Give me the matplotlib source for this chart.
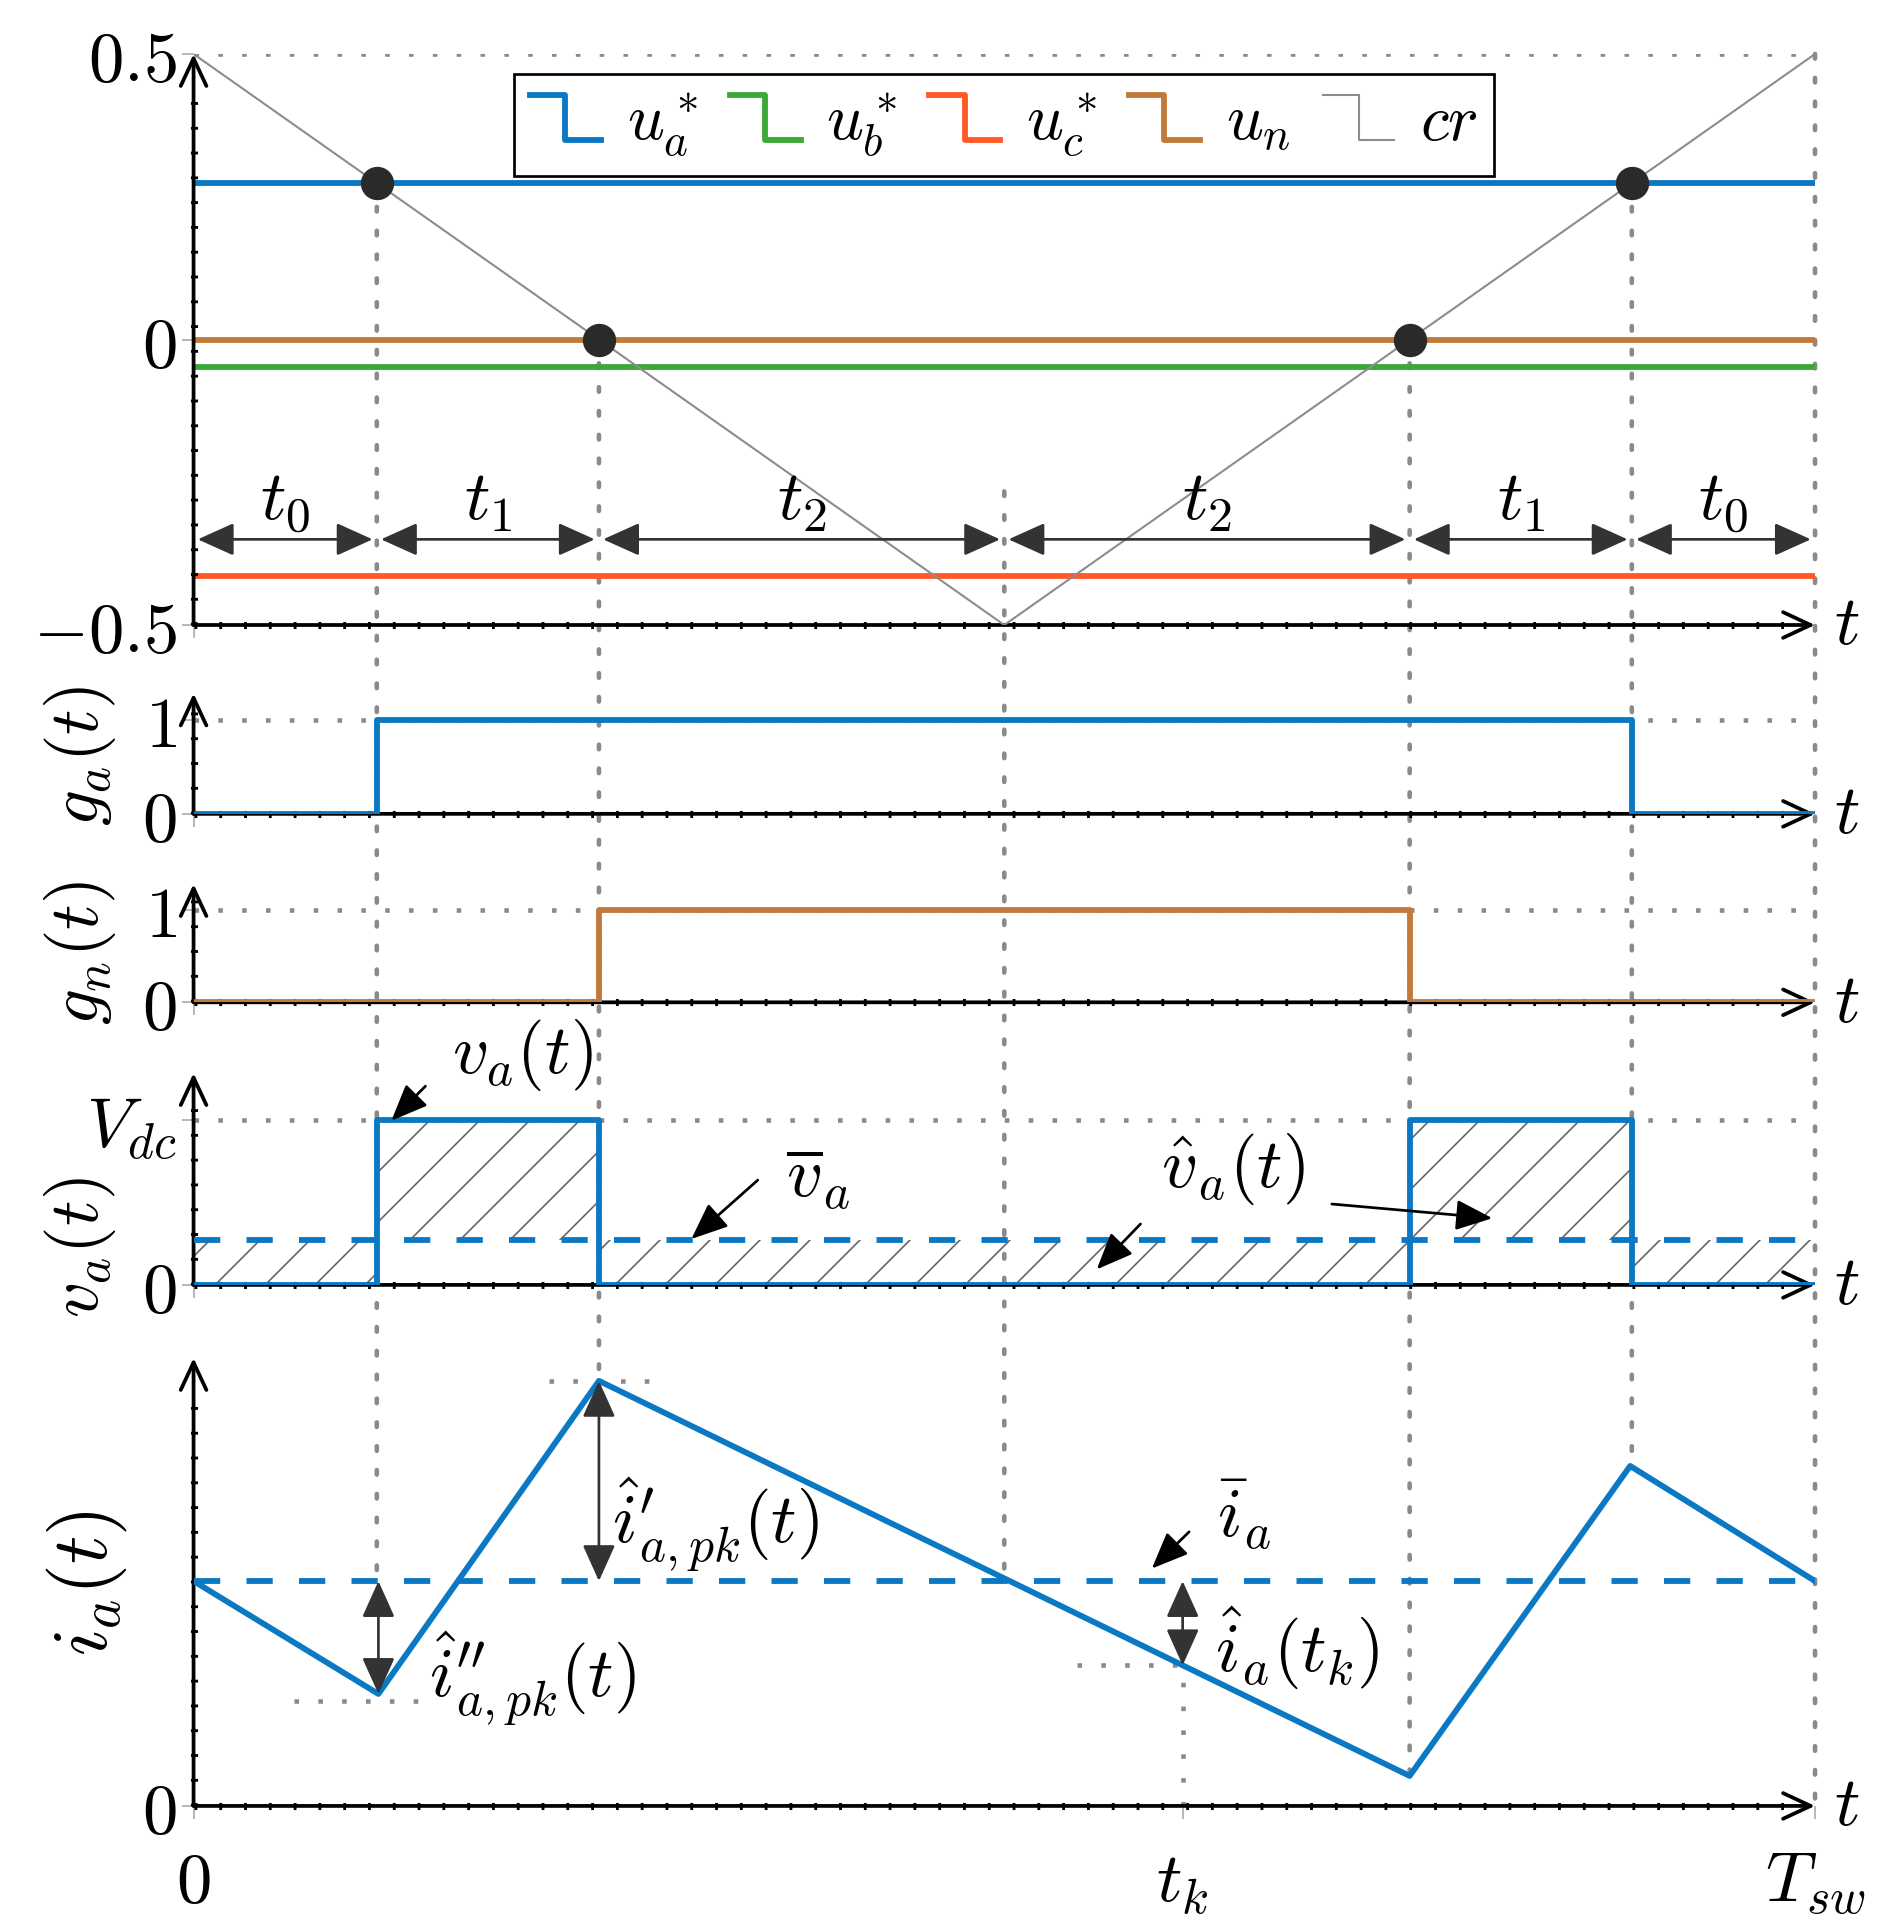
#!/usr/bin/env python3
# -*- coding: utf-8 -*-
""" Carrier based PWM of one leg: references, gate signals, leg voltage and leg current over one T_sw. """

import numpy as np
import matplotlib
matplotlib.use("Agg")
import matplotlib.pyplot as plt
from matplotlib.lines import Line2D
from matplotlib.patches import ConnectionPatch
from matplotlib.legend_handler import HandlerBase

# --- values (time normalised to T_sw) ---
ref_labels = [r"$u_a^*$", r"$u_b^*$", r"$u_c^*$", r"$u_n$"]
ref_values = [0.274, -0.049, -0.415, 0.0]
ref_colors = ["#0a78c2", "#3aaa35", "#ff5a28", "#c27a3a"]
carrier_t = [0.0, 0.5, 1.0]
carrier_u = [0.5, -0.5, 0.5]
interval_labels = [r"$t_0$", r"$t_1$", r"$t_2$", r"$t_2$", r"$t_1$", r"$t_0$"]
v_dc = 1.0
va_mean = 0.27
ia_t = [0.0, 0.114, 0.25, 0.75, 0.886, 1.0]
ia_values = [0.502, 0.25, 0.949, 0.067, 0.759, 0.502]
ia_mean = 0.502
t_k = 0.61

plt.rcParams["mathtext.fontset"] = "cm"
plt.rcParams["font.family"] = ["DejaVu Serif"]
plt.rcParams["hatch.color"] = "#666666"
plt.rcParams["hatch.linewidth"] = 0.8

FS = 34
LW = 2.8
BLUE = ref_colors[0]
BROWN = ref_colors[3]
GRID = "#8a8a8a"
DOT = (0, (1, 4.2))
DARK = "#333333"


class StepHandler(HandlerBase):
    """ legend handle drawn as a little step, like pgfplots const plot """
    def create_artists(self, legend, orig_handle, xdescent, ydescent, width, height, fontsize, trans):
        x0, y0 = -xdescent, -ydescent
        xs = [x0, x0 + width / 2, x0 + width / 2, x0 + width]
        ys = [y0 + height, y0 + height, y0, y0]
        line = Line2D(xs, ys, color=orig_handle.get_color(), lw=orig_handle.get_linewidth(), transform=trans)
        return [line]


def crossing_down(u):
    return float(np.interp(u, carrier_u[1::-1], carrier_t[1::-1]))


def crossing_up(u):
    return float(np.interp(u, carrier_u[1:], carrier_t[1:]))


ta_on, ta_off = crossing_down(ref_values[0]), crossing_up(ref_values[0])
tn_on, tn_off = crossing_down(ref_values[3]), crossing_up(ref_values[3])

fig = plt.figure(figsize=(1894 / 150, 1929 / 150), dpi=150)
L, W = 0.1022, 0.8561
ax1 = fig.add_axes([L, 0.676, W, 0.296])
ax2 = fig.add_axes([L, 0.5781, W, 0.0624])
ax3 = fig.add_axes([L, 0.4804, W, 0.0613])
ax4 = fig.add_axes([L, 0.3339, W, 0.1098])
ax5 = fig.add_axes([L, 0.0638, W, 0.2322])
ylims = [(-0.5, 0.5), (0, 1.289), (0, 1.281), (0, 1.283), (0, 1.0)]

arrow_axis = dict(arrowstyle="->,head_length=0.6,head_width=0.28", lw=1.8, color="black",
                  mutation_scale=22, shrinkA=0, shrinkB=0)
beads = dict(color="black", lw=3.4, ls=(0, (0.4, 3.1)), zorder=2.5, clip_on=False)
for ax, (y0, y1) in zip([ax1, ax2, ax3, ax4, ax5], ylims):
    ax.set_xlim(0, 1)
    ax.set_ylim(y0, y1)
    ax.patch.set_visible(False)
    for s in ax.spines.values():
        s.set_visible(False)
    ax.annotate("", xy=(0, y1), xytext=(0, y0), arrowprops=arrow_axis, annotation_clip=False)
    ax.annotate("", xy=(1.0, y0), xytext=(0, y0), arrowprops=arrow_axis, annotation_clip=False)
    # the little dots sitting on the axis lines
    ax.plot([0, 0], [y0, y1 - 0.06 * (y1 - y0)], **beads)
    ax.plot([0, 0.985], [y0, y0], **beads)
    ax.text(1.012, y0, r"$t$", fontsize=FS, ha="left", va="center")
    ax.tick_params(length=6, width=0.8, color="#aaaaaa", labelsize=FS, pad=2)
    ax.set_xticks([0], [""])

# --- panel 1: references and carrier ---
ax1.plot([0, 1], [0.5, 0.5], color=GRID, lw=2.2, ls=DOT, zorder=1)
handles = []
for u, c, lab in zip(ref_values, ref_colors, ref_labels):
    h, = ax1.plot([0, 1], [u, u], color=c, lw=LW, zorder=2, label=lab)
    handles.append(h)
h, = ax1.plot(carrier_t, carrier_u, color="#8c8c8c", lw=1.0, zorder=3, label=r"$cr$")
handles.append(h)
ax1.plot([ta_on, tn_on, tn_off, ta_off], [ref_values[0], ref_values[3], ref_values[3], ref_values[0]],
         ls="none", marker="o", ms=15, color="#2a2a2a", zorder=4)
ax1.set_yticks([-0.5, 0, 0.5], [r"$-0.5$", r"$0$", r"$0.5$"])

bounds = [0.0, ta_on, tn_on, 0.5, tn_off, ta_off, 1.0]
arrow_double = dict(arrowstyle="<|-|>,head_length=0.6,head_width=0.27", lw=1.3, color=DARK,
                    mutation_scale=25, shrinkA=2, shrinkB=2)
for a, b, lab in zip(bounds[:-1], bounds[1:], interval_labels):
    ax1.annotate("", xy=(b, -0.35), xytext=(a, -0.35), arrowprops=arrow_double, zorder=5)
    ax1.text((a + b) / 2, -0.282, lab, fontsize=FS, ha="center", va="center")

leg = ax1.legend(handles=handles, handler_map={Line2D: StepHandler()}, ncol=5, loc="upper center",
                 bbox_to_anchor=(0.530, 0.9616), bbox_transform=fig.transFigure, fontsize=31,
                 frameon=True, fancybox=False, edgecolor="black", framealpha=1, handlelength=1.1,
                 handletextpad=0.4, columnspacing=0.5, borderpad=0.25, borderaxespad=0)
leg.get_frame().set_linewidth(1.3)

# --- panels 2 and 3: gate signals ---
ax2.plot([0, 1], [1, 1], color=GRID, lw=2.2, ls=DOT, zorder=1)
ax2.step([0, ta_on, ta_off, 1], [0, 1, 0, 0], where="post", color=BLUE, lw=LW, zorder=3)
ax2.set_yticks([0, 1], [r"$0$", r"$1$"])
ax3.plot([0, 1], [1, 1], color=GRID, lw=2.2, ls=DOT, zorder=1)
ax3.step([0, tn_on, tn_off, 1], [0, 1, 0, 0], where="post", color=BROWN, lw=LW, zorder=3)
ax3.set_yticks([0, 1], [r"$0$", r"$1$"])

# --- panel 4: leg voltage ---
va_edges = [0, ta_on, tn_on, tn_off, ta_off, 1]
va_levels = [0, v_dc, 0, v_dc, 0, 0]
ax4.plot([0, 1], [v_dc, v_dc], color=GRID, lw=2.2, ls=DOT, zorder=1)
ax4.fill_between(va_edges, va_levels, va_mean, step="post", hatch="/", facecolor="none",
                 edgecolor="#666666", lw=0, zorder=2)
ax4.step(va_edges, va_levels, where="post", color=BLUE, lw=LW, zorder=3)
ax4.plot([0, 1], [va_mean, va_mean], color=BLUE, lw=LW, ls=(0, (4.5, 4.5)), zorder=3)
ax4.set_yticks([0, v_dc], [r"$0$", r"$V_{dc}$"])

single = dict(arrowstyle="-|>,head_length=0.6,head_width=0.25", lw=1.3, color="black",
              mutation_scale=25, shrinkA=0, shrinkB=0)
ax4.text(0.203, 1.39, r"$v_a(t)$", fontsize=FS, ha="center", va="center")
ax4.annotate("", xy=(0.122, 0.995), xytext=(0.143, 1.204), arrowprops=single, annotation_clip=False)
ax4.text(0.385, 0.65, r"$\overline{v}_a$", fontsize=FS, ha="center", va="center")
ax4.annotate("", xy=(0.307, 0.278), xytext=(0.348, 0.635), arrowprops=single)
ax4.text(0.641, 0.70, r"$\hat{v}_a(t)$", fontsize=FS, ha="center", va="center")
ax4.annotate("", xy=(0.801, 0.404), xytext=(0.702, 0.49), arrowprops=single, zorder=6)
ax4.annotate("", xy=(0.557, 0.094), xytext=(0.584, 0.369), arrowprops=single, zorder=6)

# --- panel 5: leg current ---
ia_tk = float(np.interp(t_k, ia_t, ia_values))
ax5.plot([0, 1], [ia_mean, ia_mean], color=BLUE, lw=LW, ls=(0, (4.5, 4.5)), zorder=3)
ax5.plot(ia_t, ia_values, color=BLUE, lw=LW, zorder=4)
ax5.plot([ia_t[2] - 0.031, ia_t[2] + 0.031], [ia_values[2]] * 2, color=GRID, lw=2.2, ls=DOT, zorder=1)
ax5.plot([ia_t[1] - 0.052, ia_t[1] + 0.025], [ia_values[1] - 0.015] * 2, color=GRID, lw=2.2, ls=DOT, zorder=1)
ax5.plot([t_k - 0.065, t_k], [ia_tk] * 2, color=GRID, lw=2.2, ls=DOT, zorder=1)
ax5.plot([t_k, t_k], [0, ia_tk], color=GRID, lw=2.2, ls=DOT, zorder=1)
ax5.set_yticks([0], [r"$0$"])
ax5.set_xticks([0, t_k, 1], [r"$0$", r"$t_k$", r"$T_{sw}$"])
ax5.tick_params(axis="x", pad=14)

double = dict(arrowstyle="<|-|>,head_length=0.6,head_width=0.27", lw=1.3, color=DARK,
              mutation_scale=25, shrinkA=0, shrinkB=0)
ax5.annotate("", xy=(ia_t[1], ia_values[1]), xytext=(ia_t[1], ia_mean), arrowprops=double, zorder=6)
ax5.annotate("", xy=(ia_t[2], ia_values[2]), xytext=(ia_t[2], ia_mean), arrowprops=double, zorder=6)
ax5.annotate("", xy=(t_k, ia_tk), xytext=(t_k, ia_mean), arrowprops=double, zorder=6)
ax5.text(0.145, 0.283, r"$\hat{i}^{\prime\prime}_{a,pk}(t)$", fontsize=FS, ha="left", va="center")
ax5.text(0.258, 0.627, r"$\hat{i}^{\prime}_{a,pk}(t)$", fontsize=FS, ha="left", va="center")
ax5.text(0.648, 0.65, r"$\bar{i}_a$", fontsize=FS, ha="center", va="center")
ax5.annotate("", xy=(0.591, 0.53), xytext=(0.614, 0.612), arrowprops=single)
ax5.text(0.63, 0.353, r"$\hat{i}_a(t_k)$", fontsize=FS, ha="left", va="center")

# --- vertical dotted guides running through all panels ---
guides = [((ta_on, ref_values[0]), (ta_on, ia_mean)),
          ((tn_on, ref_values[3]), (tn_on, ia_values[2])),
          ((0.5, -0.266), (0.5, ia_mean)),
          ((tn_off, ref_values[3]), (tn_off, ia_values[3])),
          ((ta_off, ref_values[0]), (ta_off, ia_values[4])),
          ((1.0, 0.5), (1.0, 0.0))]
for pa, pb in guides:
    con = ConnectionPatch(xyA=pa, coordsA=ax1.transData, xyB=pb, coordsB=ax5.transData,
                          color=GRID, lw=2.2, ls=DOT, zorder=-1)
    fig.add_artist(con)

# --- y labels ---
fig.text(0.042, 0.608, r"$g_a(t)$", rotation=90, fontsize=FS, ha="center", va="center")
fig.text(0.042, 0.506, r"$g_n(t)$", rotation=90, fontsize=FS, ha="center", va="center")
fig.text(0.042, 0.353, r"$v_a(t)$", rotation=90, fontsize=FS, ha="center", va="center")
fig.text(0.046, 0.1794, r"$i_a(t)$", rotation=90, fontsize=38, ha="center", va="center")

fig.savefig("out.png", dpi=150, facecolor="white")
